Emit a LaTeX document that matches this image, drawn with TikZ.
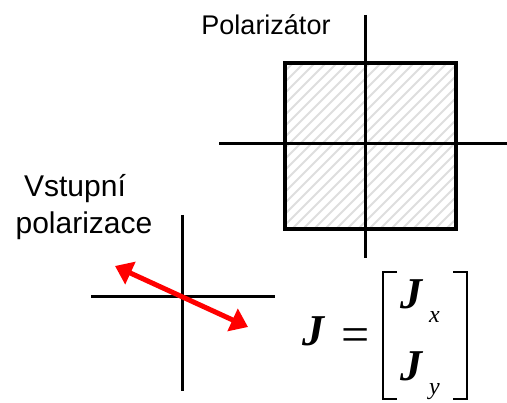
\documentclass[tikz,border=0pt]{standalone}
\usepackage{fontspec}
\setmainfont{Liberation Serif}
\newfontfamily\arial{Liberation Sans}
\usetikzlibrary{arrows.meta}
\tikzset{
  axis/.style={line width=3pt, black},
  frame/.style={line width=4pt, black},
  hatchline/.style={line width=1.8pt, color=black!13},
  label/.style={inner sep=0pt, anchor=base},
  polvec/.style={line width=5pt, red, {Triangle[length=17pt,width=24pt]}-{Triangle[length=17pt,width=24pt]}},
  eqJ/.style={font=\fontsize{44}{48}\selectfont\bfseries\itshape, inner sep=0pt, anchor=base west},
  eqsub/.style={font=\fontsize{24}{28}\selectfont\itshape, inner sep=0pt, anchor=base west},
  bracket/.style={line width=1.8pt, black}
}
\begin{document}
\begin{tikzpicture}[x=1pt,y=-1pt]
\useasboundingbox (0,0) rectangle (507,403);
% polarizer plate
\begin{scope}
  \clip (285,63) rectangle (456,229);
  \foreach \i in {-180,-169,...,180} {
    \draw[hatchline] (285+\i,229) -- (285+\i+180,49);
  }
\end{scope}
\draw[frame] (285,63) rectangle (456,229);
% polarizer axes
\coordinate (pvt) at (365,15);
\coordinate (pvb) at (365,258);
\coordinate (phl) at (219,144);
\coordinate (phr) at (507,144);
\draw[axis] (pvt) -- (pvb);
\draw[axis] (phl) -- (phr);
% input axes
\coordinate (ivt) at (182,215);
\coordinate (ivb) at (182,391);
\coordinate (ihl) at (91,297);
\coordinate (ihr) at (275,297);
\draw[axis] (ivt) -- (ivb);
\draw[axis] (ihl) -- (ihr);
% polarization vector
\coordinate (va) at (115,266);
\coordinate (vb) at (248,327);
\draw[polvec] (va) -- (vb);
% labels
\node[label, font=\arial\fontsize{27}{30}\selectfont] (pol) at (266,35) {Polarizátor};
\node[label, font=\arial\fontsize{30}{34}\selectfont] (vst) at (75,197) {Vstupní};
\node[label, font=\arial\fontsize{30}{34}\selectfont] (plz) at (84,234) {polarizace};
% equation
\node[eqJ] (J) at (302,346) {J};
\node[font=\fontsize{50}{54}\selectfont, inner sep=0pt, anchor=base west] (eq) at (341,352) {=};
\node[eqJ] (Jx) at (400,309) {J};
\node[eqsub] (x) at (429,323) {x};
\node[eqJ] (Jy) at (400,381) {J};
\node[eqsub] (y) at (429,395) {y};
\draw[bracket] (397,272) -- (383,272) -- (383,399) -- (397,399);
\draw[bracket] (453,272) -- (467,272) -- (467,399) -- (453,399);
\end{tikzpicture}
\end{document}
